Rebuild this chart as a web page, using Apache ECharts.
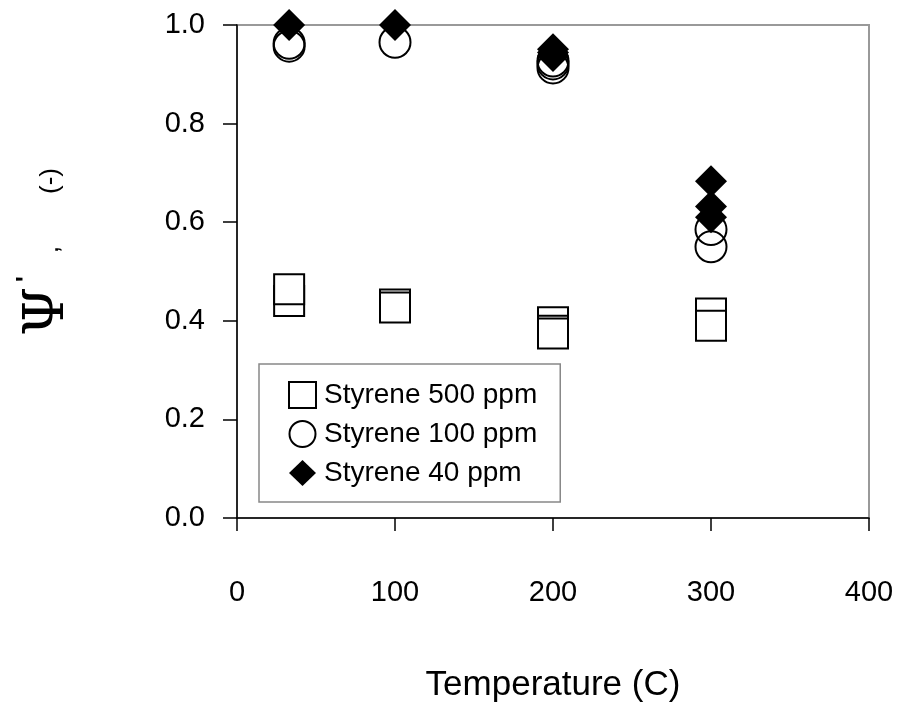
<!DOCTYPE html>
<html>
<head>
<meta charset="utf-8">
<script src="https://cdn.jsdelivr.net/npm/echarts@6/dist/echarts.min.js"></script>
<style>
html,body{margin:0;padding:0;background:#fff;}
#chart{width:901px;height:718px;}
</style>
</head>
<body>
<div id="chart"></div>
<script>
// ---- data ----
var seriesNames = ['Styrene 500 ppm', 'Styrene 100 ppm', 'Styrene 40 ppm'];
var xTicks = [0, 100, 200, 300, 400];
var yTicks = [0.0, 0.2, 0.4, 0.6, 0.8, 1.0];

var temp500 = [33, 33, 100, 100, 200, 200, 200, 300, 300];
var psi500  = [0.44, 0.464, 0.433, 0.427, 0.397, 0.38, 0.374, 0.415, 0.39];

var temp100 = [33, 33, 100, 200, 200, 200, 300, 300];
var psi100  = [0.963, 0.957, 0.965, 0.927, 0.921, 0.913, 0.585, 0.55];

var temp40 = [33, 100, 200, 200, 200, 300, 300, 300];
var psi40  = [1.0, 1.0, 0.951, 0.944, 0.937, 0.683, 0.632, 0.61];

function pairs(xs, ys) { return xs.map(function (x, i) { return [x, ys[i]]; }); }

var FONT = '"Liberation Sans", Arial, sans-serif';
var chart = echarts.init(document.getElementById('chart'), null, {renderer: 'canvas'});

chart.setOption({
  backgroundColor: '#ffffff',
  animation: false,
  grid: {
    left: 237, right: 32, top: 25, bottom: 200,
    show: true, borderColor: '#999999', borderWidth: 2, backgroundColor: 'transparent'
  },
  xAxis: {
    type: 'value', min: xTicks[0], max: xTicks[xTicks.length - 1], interval: 100,
    axisLine: {show: true, onZero: false, lineStyle: {color: '#000', width: 1.5}},
    axisTick: {show: true, inside: false, length: 13, lineStyle: {color: '#000', width: 1.5}},
    axisLabel: {color: '#000', fontSize: 29, fontFamily: FONT, margin: 60},
    splitLine: {show: false},
    name: 'Temperature (C)', nameLocation: 'middle', nameGap: 150,
    nameTextStyle: {color: '#000', fontSize: 35, fontFamily: FONT}
  },
  yAxis: {
    type: 'value', min: yTicks[0], max: yTicks[yTicks.length - 1], interval: 0.2,
    axisLine: {show: true, onZero: false, lineStyle: {color: '#000', width: 1.5}},
    axisTick: {show: true, inside: false, length: 14, lineStyle: {color: '#000', width: 1.5}},
    axisLabel: {color: '#000', fontSize: 29, fontFamily: FONT, margin: 32,
      formatter: function (v) { return v.toFixed(1); }},
    splitLine: {show: false}
  },
  legend: {
    orient: 'vertical', left: 259, top: 364,
    backgroundColor: '#fff', borderColor: '#888', borderWidth: 1.5,
    padding: [17, 23, 15, 29],
    itemWidth: 27, itemHeight: 26, itemGap: 11,
    textStyle: {color: '#000', fontSize: 28, fontFamily: FONT, padding: [0, 0, 0, 3]},
    data: [
      {name: seriesNames[0], icon: 'rect'},
      {name: seriesNames[1], icon: 'circle'},
      {name: seriesNames[2], icon: 'diamond'}
    ]
  },
  graphic: [
    {type: 'text', left: 20, top: 287, rotation: Math.PI / 2, z: 10,
      style: {text: 'Ψ', font: '56px "DejaVu Serif", serif', fill: '#000'}},
    {type: 'text', left: 14, top: 276, rotation: Math.PI / 2, z: 10,
      style: {text: "'", font: 'bold 26px ' + FONT, fill: '#000'}},
    {type: 'text', left: 38, top: 246, rotation: Math.PI / 2, z: 10,
      style: {text: ',', font: '26px ' + FONT, fill: '#000'}},
    {type: 'text', left: 38, top: 168, rotation: Math.PI / 2, z: 10,
      style: {text: '(-)', font: '26px ' + FONT, fill: '#000'}}
  ],
  series: [
    {name: seriesNames[0], type: 'scatter', symbol: 'rect', symbolSize: 30, clip: false,
      itemStyle: {color: '#fff', borderColor: '#000', borderWidth: 2, opacity: 1},
      data: pairs(temp500, psi500)},
    {name: seriesNames[1], type: 'scatter', symbol: 'circle', symbolSize: 31, clip: false,
      itemStyle: {color: 'rgba(255,255,255,0)', borderColor: '#000', borderWidth: 2, opacity: 1},
      data: pairs(temp100, psi100)},
    {name: seriesNames[2], type: 'scatter', symbol: 'diamond', symbolSize: 32, clip: false,
      itemStyle: {color: '#000', borderColor: '#000', borderWidth: 0, opacity: 1},
      data: pairs(temp40, psi40)}
  ]
});
</script>
</body>
</html>
